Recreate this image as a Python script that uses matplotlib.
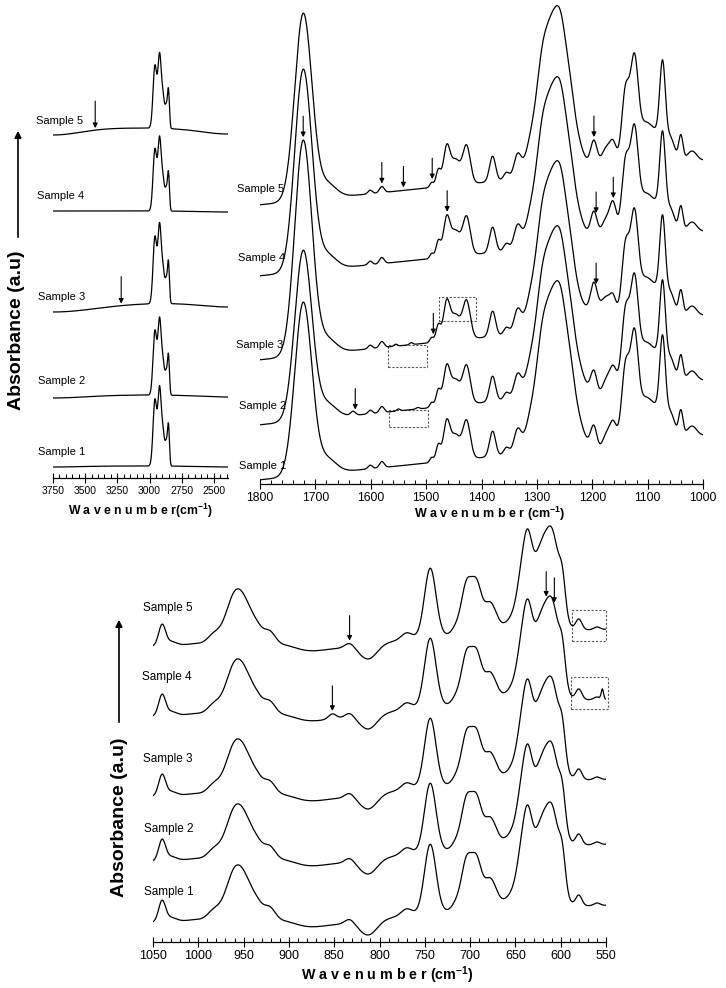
import numpy as np
import matplotlib
matplotlib.use("Agg")
import matplotlib.pyplot as plt
from matplotlib.patches import Rectangle, FancyArrowPatch
from matplotlib.ticker import MultipleLocator

plt.rcParams['font.family'] = ['Liberation Sans', 'DejaVu Sans']
plt.rcParams['mathtext.fontset'] = 'custom'
plt.rcParams['mathtext.rm'] = 'Liberation Sans'
plt.rcParams['mathtext.bf'] = 'Liberation Sans:bold'

W, H = 726, 988   # figure size in pixels

SAMPLES = ['Sample 1', 'Sample 2', 'Sample 3', 'Sample 4', 'Sample 5']

# ---------------------------------------------------------------------------
# Band tables (position cm-1, width cm-1, height px)
# ---------------------------------------------------------------------------
# C-H stretching region (3750-2390)
A_CENTERS = [2958, 2922, 2895, 2870, 2853]
A_WIDTHS = [34, 30, 30, 20, 18]
A_HEIGHTS = [62, 70, 30, 18, 38]
A_OFFSET = [12, 83, 175, 267, 350]
A_SCALE = [1.06, 1.03, 1.07, 0.99, 1.0]
A_LEFT = [1, 3, 9, 0, 7]          # baseline drop at 3750
A_LEFTW = [500, 600, 800, 500, 500]
A_RIGHT = [1, 2, 4, 1, 6]         # baseline drop at the low end

# fingerprint 1800-1000
B_CENTERS = [1722, 1705, 1680, 1601, 1580, 1490, 1478, 1463, 1447, 1427, 1380, 1355, 1335,
             1312, 1292, 1256, 1240, 1268, 1197, 1175, 1162, 1140, 1124, 1105, 1100, 1073,
             1058, 1040, 1020]
B_WIDTHS = [36, 22, 40, 9, 10, 8, 10, 14, 20, 16, 13, 12, 15,
            18, 20, 18, 16, 60, 14, 20, 14, 16, 16, 16, 60, 12,
            16, 9, 20]
B_HEIGHTS = [186, 3.2, 14.5, 3.6, 6.1, 5, 16.7, 37.6, 25.1, 37.8, 25.3, 7.2, 20.5,
             7.3, 20.2, 14.2, 8.9, 163, 27.2, 21.0, 20.3, 66.8, 84, 3.2, 40.9, 80,
             15.5, 24.4, 10.2]
B_BASE = [-24.6, -22.2]           # level and slope per 400 cm-1 around 1400
B_OFFSET = [51, 106, 171, 255, 326]
# per-sample changes: (sample, position, width, height)
B_EXTRA = [(0, 1722, 36, -14), (1, 1722, 36, -17), (2, 1722, 36, 28), (3, 1722, 36, 15),
           (2, 1195, 35, 13), (0, 1185, 40, -13), (1, 1185, 40, -13), (3, 1162, 14, 10),
           (1, 1632, 10, 4), (2, 1555, 7, 2), (2, 1527, 7, 2), (1, 1550, 7, 2),
           (1, 1515, 7, 1.5)]

# low region 1050-550
C_CENTERS = [1040, 1030, 1000, 983, 958, 945, 935, 922, 905, 850, 833, 770, 744, 715, 704,
             693, 678, 645, 637, 622, 609, 598, 630, 580, 560, 812, 870]
C_WIDTHS = [9, 14, 30, 16, 26, 16, 14, 16, 30, 30, 12, 14, 15, 12, 13,
            13, 16, 10, 12, 14, 18, 8, 40, 8, 8, 22, 150]
C_HEIGHTS = [20.9, 4.1, 2.0, 8.7, 55.6, 13.4, 14.3, 15.9, 5.4, 1.1, 5.0, 6.6, 68.6, 7.6,
             47.5, 46.3, 29.4, 13.4, 54.3, 27.6, 76.1, 28.1, 49.0, 10.5, 2.6, -13.8, -11.7]
C_BASE = [29.0, -8.4, -0.7]       # level, slope, curvature around 800 (per 250 cm-1)
C_OFFSET = [0, 61, 126, 206, 276]
C_EXTRA = [(3, 852, 10, 5), (3, 554, 3, 10)]

# marked bands: (sample, wavenumber)
A_ARROWS = [(4, 3422), (2, 3220)]
B_ARROWS = [(2, 1722), (4, 1580), (4, 1541), (4, 1489), (3, 1462), (4, 1197), (3, 1193),
            (3, 1162), (2, 1193), (2, 1487), (1, 1628)]
C_ARROWS = [(4, 833), (3, 852), (3, 616), (3, 607)]
# dotted boxes: (sample, wn from, wn to, low, high relative to the sample offset)
B_BOXES = [(2, 1569, 1498, -54, -32), (1, 1567, 1497, -49, -32), (2, 1477, 1410, -8, 16)]
C_BOXES = [(4, 588, 550, 25, 56), (3, 589, 547.5, 27, 59)]


def g(x, c, w):
    return np.exp(-4 * np.log(2) * ((x - c) / w) ** 2)


def bands(x, centers, widths, heights):
    y = np.zeros_like(x, dtype=float)
    for c, w, h in zip(centers, widths, heights):
        y += h * g(x, c, w)
    return y


def extras(x, table, s):
    y = np.zeros_like(x, dtype=float)
    for k, c, w, h in table:
        if k == s:
            y += h * g(x, c, w)
    return y


def spec_a(x, s):
    y = A_OFFSET[s] - A_LEFT[s] * g(x, 3750, A_LEFTW[s]) - A_RIGHT[s] * g(x, 2390, 500)
    return y + A_SCALE[s] * bands(x, A_CENTERS, A_WIDTHS, A_HEIGHTS)


def spec_b(x, s):
    u = (x - 1400) / 400
    y = B_OFFSET[s] + B_BASE[0] + B_BASE[1] * u
    return y + bands(x, B_CENTERS, B_WIDTHS, B_HEIGHTS) + extras(x, B_EXTRA, s)


def spec_c(x, s):
    u = (x - 800) / 250
    y = C_OFFSET[s] + C_BASE[0] + C_BASE[1] * u + C_BASE[2] * u ** 2
    return y + bands(x, C_CENTERS, C_WIDTHS, C_HEIGHTS) + extras(x, C_EXTRA, s)


def fp(x, y):
    """pixel position -> figure fraction"""
    return x / W, 1 - y / H


fig = plt.figure(figsize=(7.26, 9.88), dpi=100)
axA = fig.add_axes([53 / W, 1 - 478 / H, 175 / W, 478 / H])
axB = fig.add_axes([260 / W, 1 - 484 / H, 443 / W, 484 / H])
axC = fig.add_axes([153 / W, 1 - 942 / H, 453 / W, 422 / H])

panels = [(axA, spec_a, (3750, 2390), 478, 250, 50, 7.5),
          (axB, spec_b, (1800, 1000), 484, 100, 20, 8.7),
          (axC, spec_c, (1050, 550), 422, 50, 10, 9)]
for ax, fn, lim, ytop, maj, mn, fs in panels:
    xs = np.linspace(lim[0], lim[1], 2500)
    for s in range(5):
        ax.plot(xs, fn(xs, s), color='black', lw=0.9)
    ax.set_xlim(*lim)
    ax.set_ylim(0, ytop)
    ax.patch.set_visible(False)
    for side in ['left', 'right', 'top']:
        ax.spines[side].set_visible(False)
    ax.spines['bottom'].set_linewidth(0.9)
    ax.set_yticks([])
    ax.xaxis.set_major_locator(MultipleLocator(maj))
    ax.xaxis.set_minor_locator(MultipleLocator(mn))
    ax.tick_params(axis='x', which='major', direction='inout', length=7, width=0.8,
                   labelsize=fs, pad=2.5)
    ax.tick_params(axis='x', which='minor', direction='in', length=3, width=0.7)

# arrows marking the changed bands
for ax, fn, arrows, gap, ln in [(axA, spec_a, A_ARROWS, 2, 27), (axB, spec_b, B_ARROWS, 3, 21),
                                (axC, spec_c, C_ARROWS, 3, 25)]:
    for s, wn in arrows:
        tip = fn(np.array([float(wn)]), s)[0] + gap
        ax.annotate('', xy=(wn, tip), xytext=(wn, tip + ln),
                    arrowprops=dict(arrowstyle='-|>', color='black', lw=0.8,
                                    mutation_scale=7, shrinkA=0, shrinkB=0))

# dotted boxes
for ax, offs, boxes in [(axB, B_OFFSET, B_BOXES), (axC, C_OFFSET, C_BOXES)]:
    for s, w1, w2, r1, r2 in boxes:
        ax.add_patch(Rectangle((w1, offs[s] + r1), w2 - w1, r2 - r1, fill=False,
                               edgecolor='#555555', lw=0.8, linestyle=(0, (2, 1.5)),
                               clip_on=False))

# sample labels
for xy_list, fs in [([(38, 452), (38, 381), (38, 297), (37, 196), (36, 121)], 8),
                    ([(239, 466), (239, 406), (236, 345), (238, 258), (237, 189)], 8),
                    ([(144, 892), (144, 829), (143, 759), (142, 677), (143, 608)], 8.5)]:
    for (x, y), name in zip(xy_list, SAMPLES):
        fig.text(*fp(x, y), name, fontsize=fs, ha='left', va='center')

# axis titles
fig.text(*fp(140, 511), r'W a v e n u m b e r(cm$^{\mathbf{-1}}$)', fontsize=8.8,
         fontweight='bold', ha='center', va='center')
fig.text(*fp(490, 514), r'W a v e n u m b e r (cm$^{\mathbf{-1}}$)', fontsize=9,
         fontweight='bold', ha='center', va='center')
fig.text(*fp(387, 975), r'W a v e n u m b e r (cm$^{\mathbf{-1}}$)', fontsize=10.3,
         fontweight='bold', ha='center', va='center')
for (x, y), (x0, y0, y1) in [((17, 330), (18, 240, 128)), ((120, 817), (119, 725, 617))]:
    fig.text(*fp(x, y), 'Absorbance (a.u)', fontsize=14, fontweight='bold', rotation=90,
             ha='center', va='center')
    fig.add_artist(FancyArrowPatch(fp(x0, y0), fp(x0, y1), transform=fig.transFigure,
                                   arrowstyle='-|>', mutation_scale=10, lw=1.2,
                                   color='black'))

fig.savefig('out.png', dpi=100)
